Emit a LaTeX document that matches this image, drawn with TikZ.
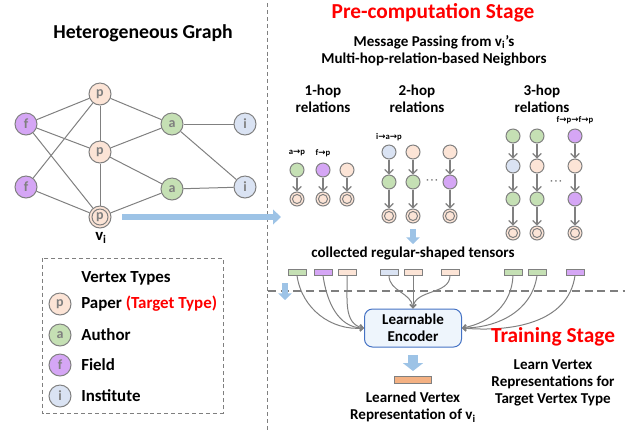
\documentclass[tikz,border=0pt]{standalone}
\usepackage{fontspec}
\setmainfont{Carlito}
\newfontfamily\arrfont{DejaVu Sans}
\usetikzlibrary{arrows.meta}
\definecolor{pcol}{HTML}{FCE4D6}
\definecolor{acol}{HTML}{C5E0B4}
\definecolor{fcol}{HTML}{D5A6F5}
\definecolor{icol}{HTML}{DAE3F3}
\definecolor{egray}{HTML}{808080}
\definecolor{lgray}{HTML}{7F7F7F}
\definecolor{barrow}{HTML}{9DC3E6}
\definecolor{encfill}{HTML}{EEF5FC}
\definecolor{encdraw}{HTML}{4472C4}
\definecolor{orng}{HTML}{F4B183}
\newcommand{\ar}{{\arrfont\bfseries →}}
\begin{document}
\begin{tikzpicture}[x=0.75pt,y=-0.75pt,
  gv/.style={circle, draw=egray, line width=0.75pt, minimum size=16.5pt, inner sep=0pt,
     font=\fontsize{10.5}{11}\selectfont\bfseries, text=lgray},
  gp/.style={gv, fill=pcol, node contents={p}},
  ga/.style={gv, fill=acol, node contents={a}},
  gf/.style={gv, fill=fcol, node contents={f}},
  gi/.style={gv, fill=icol, node contents={i}},
  gt/.style={gv, fill=pcol, node contents={p},
     path picture={\draw[egray, line width=0.75pt] (path picture bounding box.center) circle (6pt);}},
  gedge/.style={draw=egray, line width=0.75pt},
  sv/.style={circle, draw=egray, line width=0.75pt, minimum size=10.5pt, inner sep=0pt},
  sp/.style={sv, fill=pcol}, sa/.style={sv, fill=acol}, sf/.style={sv, fill=fcol}, si/.style={sv, fill=icol},
  st/.style={sv, fill=pcol,
     path picture={\draw[egray, line width=0.75pt] (path picture bounding box.center) circle (3.4pt);}},
  harrow/.style={draw=egray, line width=0.9pt, -{Straight Barb[length=3.2pt,width=6.5pt]}},
  tens/.style={draw=egray, line width=0.75pt, minimum width=13.5pt, minimum height=4.5pt, inner sep=0pt},
  curv/.style={draw=egray, line width=0.75pt, -{Straight Barb[length=2.5pt,width=4.5pt]}},
  bfat/.style={draw=barrow, line width=#1},
  txt/.style={font=\fontsize{11.3}{13}\selectfont\bfseries, align=center, inner sep=0pt},
  ltxt/.style={font=\fontsize{12.7}{14}\selectfont\bfseries, anchor=west, inner sep=0pt},
  small/.style={font=\fontsize{6.5}{7}\selectfont\bfseries, inner sep=0pt},
  dots/.style={font=\arrfont\fontsize{10}{10}\selectfont, text=lgray, inner sep=0pt},
  redt/.style={font=\fontsize{16}{18}\selectfont\bfseries, text=red, inner sep=0pt}
]
\useasboundingbox (0,0) rectangle (631,430);

% dashed separators
\coordinate (vtop) at (267,3);
\coordinate (vbot) at (267,430);
\draw[lgray, line width=0.75pt, dash pattern=on 3pt off 2.2pt] (vtop) -- (vbot);
\coordinate (hl) at (268,291);
\coordinate (hr) at (625,291);
\draw[lgray, line width=0.9pt, dash pattern=on 6pt off 3.5pt] (hl) -- (hr);

% Heterogeneous graph
\node[font=\fontsize{14.8}{16}\selectfont\bfseries, inner sep=0pt] (htitle) at (143,33) {Heterogeneous Graph};
\node (f1) at (26,124) [gf];
\node (f2) at (26,187) [gf];
\node (p1) at (100,94) [gp];
\node (p2) at (100,152) [gp];
\node (vi) at (100,217) [gt];
\node (a1) at (172,124) [ga];
\node (a2) at (172,189) [ga];
\node (i1) at (245,124) [gi];
\node (i2) at (245,187) [gi];
\foreach \u/\v in {f1/p1,f1/p2,f1/vi,f2/p1,f2/vi,p1/p2,p2/vi,p1/a1,p2/a1,p2/a2,vi/a2,a1/i1,a2/i2,a1/i2}
  \draw[gedge] (\u) -- (\v);
\node[font=\fontsize{12.5}{13}\selectfont\bfseries, inner sep=0pt] (vilab) at (101,238) {v\textsubscript{i}};

% big blue arrow
\coordinate (bs) at (122,217);
\coordinate (be) at (281,217);
\draw[bfat=5.2pt, -{Triangle[length=6pt,width=11pt]}] (bs) -- (be);

% legend
\coordinate (lg1) at (42,258);
\coordinate (lg2) at (223,413);
\draw[lgray, line width=0.75pt, dash pattern=on 3pt off 2.2pt] (lg1) rectangle (lg2);
\node[ltxt] (lvt) at (81,278) {Vertex Types};
\node (lp) at (60,304) [gp];
\node (la) at (60,335) [ga];
\node (lf) at (60,365) [gf];
\node (li) at (60,396) [gi];
\node[ltxt] (lpt) at (81,304) {Paper \textcolor{red}{(Target Type)}};
\node[ltxt] (lat) at (81,335) {Author};
\node[ltxt] (lft) at (81,365) {Field};
\node[ltxt] (lit) at (81,396) {Institute};

% pre-computation stage
\node[redt] (pre) at (433,13) {Pre-computation Stage};
\node[txt] (mp) at (434,51) {Message Passing from v\textsubscript{i}'s\\Multi-hop-relation-based Neighbors};
\node[txt] (h1) at (323,99) {1-hop\\relations};
\node[txt] (h2) at (417,99) {2-hop\\relations};
\node[txt] (h3) at (542,99) {3-hop\\relations};

% 1-hop
\node[sa] (o1a) at (297,170) {};
\node[st] (o1b) at (297,199) {};
\node[sf] (o2a) at (323,170) {};
\node[st] (o2b) at (323,199) {};
\node[sp] (o3a) at (347,170) {};
\node[st] (o3b) at (347,199) {};
\draw[harrow] (o1a) -- (o1b);
\draw[harrow] (o2a) -- (o2b);
\draw[harrow] (o3a) -- (o3b);
\node[small] (lap) at (297,153) {a\ar p};
\node[small] (lfp) at (323,153) {f\ar p};

% 2-hop
\node[si] (t1a) at (389,152) {};
\node[sa] (t1b) at (389,182) {};
\node[st] (t1c) at (389,216) {};
\node[sp] (t2a) at (413,152) {};
\node[sa] (t2b) at (413,182) {};
\node[st] (t2c) at (413,216) {};
\node[sp] (t3a) at (450,152) {};
\node[sf] (t3b) at (450,182) {};
\node[st] (t3c) at (450,216) {};
\foreach \c in {t1,t2,t3}{
  \draw[harrow] (\c a) -- (\c b);
  \draw[harrow] (\c b) -- (\c c);}
\node[dots] (d2) at (432,182) {⋯};
\node[small] (liap) at (389,137) {i\ar a\ar p};

% 3-hop
\node[sa] (r1a) at (513,136) {};
\node[si] (r1b) at (513,166) {};
\node[sa] (r1c) at (513,199) {};
\node[st] (r1d) at (513,233) {};
\node[sa] (r2a) at (537,136) {};
\node[sp] (r2b) at (537,166) {};
\node[sa] (r2c) at (537,199) {};
\node[st] (r2d) at (537,233) {};
\node[sf] (r3a) at (575,136) {};
\node[sp] (r3b) at (575,166) {};
\node[sf] (r3c) at (575,199) {};
\node[st] (r3d) at (575,233) {};
\foreach \c in {r1,r2,r3}{
  \draw[harrow] (\c a) -- (\c b);
  \draw[harrow] (\c b) -- (\c c);
  \draw[harrow] (\c c) -- (\c d);}
\node[dots] (d3) at (556,183) {⋯};
\node[small] (lfpfp) at (575,120) {f\ar p\ar f\ar p};

% small blue arrows
\coordinate (sb1) at (413,229);
\coordinate (sb2) at (413,244);
\draw[bfat=5pt, -{Triangle[length=5pt,width=10pt]}] (sb1) -- (sb2);
\coordinate (sc1) at (285,283);
\coordinate (sc2) at (285,300);
\draw[bfat=5pt, -{Triangle[length=5pt,width=10pt]}] (sc1) -- (sc2);

% tensors
\node[txt] (coll) at (413,253) {collected regular-shaped tensors};
\node[tens, fill=acol] (x1) at (297,272) {};
\node[tens, fill=fcol] (x2) at (323,272) {};
\node[tens, fill=pcol] (x3) at (347,272) {};
\node[tens, fill=icol] (x4) at (389,272) {};
\node[tens, fill=pcol] (x5) at (413,272) {};
\node[tens, fill=pcol] (x6) at (450,272) {};
\node[tens, fill=acol] (x7) at (513,272) {};
\node[tens, fill=acol] (x8) at (537,272) {};
\node[tens, fill=fcol] (x9) at (575,272) {};

% encoder
\node[draw=encdraw, fill=encfill, line width=0.75pt, rounded corners=6pt,
      minimum width=72.75pt, minimum height=28.5pt, txt] (enc) at (413,328) {Learnable\\Encoder};
\draw[curv] (x1.south) to[out=-82,in=185] (enc.west);
\draw[curv] (x2.south) to[out=-82,in=180] (enc.west);
\draw[curv] (x3.south) to[out=-88,in=170] (enc.west);
\draw[curv] (x4.south) to[out=-90,in=95] (enc.north);
\draw[curv] (x5.south) -- (enc.north);
\draw[curv] (x6.south) to[out=-90,in=85] (enc.north);
\draw[curv] (x7.south) to[out=-92,in=10] (enc.east);
\draw[curv] (x8.south) to[out=-98,in=0] (enc.east);
\draw[curv] (x9.south) to[out=-98,in=-5] (enc.east);

% output
\coordinate (eo) at ([yshift=-5.5pt]enc.south);
\coordinate (ee) at (413,371);
\draw[bfat=7.5pt, -{Triangle[length=6pt,width=15pt]}] (eo) -- (ee);
\node[draw=egray, fill=orng, line width=0.75pt, minimum width=27.75pt, minimum height=5pt, inner sep=0pt] (outv) at (413,380) {};
\node[txt] (lvr) at (413,407) {Learned Vertex\\Representation of v\textsubscript{i}};

% training stage
\node[redt] (train) at (553,337) {Training Stage};
\node[txt] (lv) at (553,383) {Learn Vertex\\Representations for\\Target Vertex Type};
\end{tikzpicture}
\end{document}
